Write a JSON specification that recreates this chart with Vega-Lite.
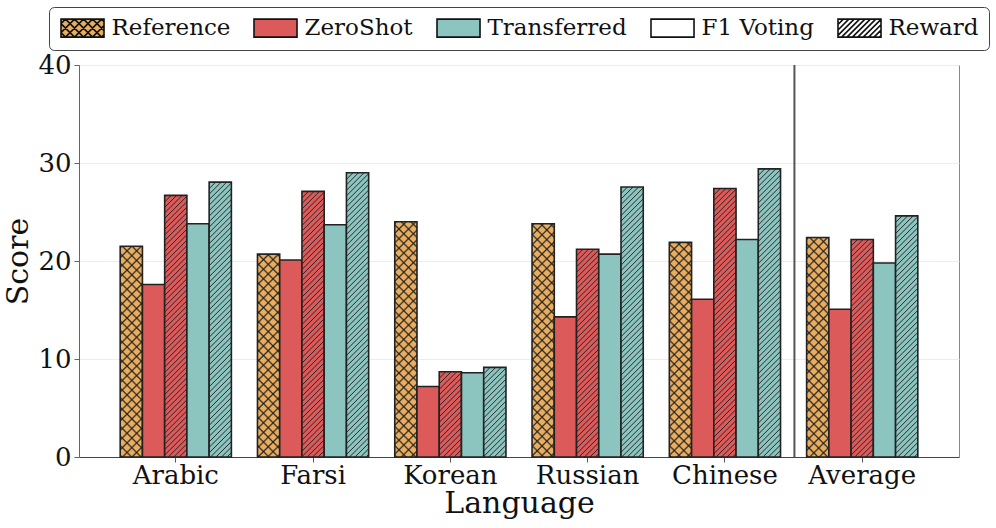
{
  "$schema": "https://vega.github.io/schema/vega-lite/v6.json",
  "width": 880,
  "height": 392,
  "autosize": "none",
  "padding": {"left": 79, "top": 65, "right": 37, "bottom": 71},
  "background": "white",
  "params": [
    {"name": "hatchStops", "value": [
      {"offset":0.000,"color":"rgba(30,30,30,0)"},{"offset":0.003,"color":"rgba(30,30,30,0.9)"},{"offset":0.006,"color":"rgba(30,30,30,0)"},
      {"offset":0.016,"color":"rgba(30,30,30,0)"},{"offset":0.019,"color":"rgba(30,30,30,0.9)"},{"offset":0.022,"color":"rgba(30,30,30,0)"},
      {"offset":0.032,"color":"rgba(30,30,30,0)"},{"offset":0.035,"color":"rgba(30,30,30,0.9)"},{"offset":0.038,"color":"rgba(30,30,30,0)"},
      {"offset":0.048,"color":"rgba(30,30,30,0)"},{"offset":0.051,"color":"rgba(30,30,30,0.9)"},{"offset":0.054,"color":"rgba(30,30,30,0)"},
      {"offset":0.064,"color":"rgba(30,30,30,0)"},{"offset":0.067,"color":"rgba(30,30,30,0.9)"},{"offset":0.070,"color":"rgba(30,30,30,0)"},
      {"offset":0.080,"color":"rgba(30,30,30,0)"},{"offset":0.083,"color":"rgba(30,30,30,0.9)"},{"offset":0.086,"color":"rgba(30,30,30,0)"},
      {"offset":0.096,"color":"rgba(30,30,30,0)"},{"offset":0.099,"color":"rgba(30,30,30,0.9)"},{"offset":0.102,"color":"rgba(30,30,30,0)"},
      {"offset":0.112,"color":"rgba(30,30,30,0)"},{"offset":0.115,"color":"rgba(30,30,30,0.9)"},{"offset":0.118,"color":"rgba(30,30,30,0)"},
      {"offset":0.128,"color":"rgba(30,30,30,0)"},{"offset":0.131,"color":"rgba(30,30,30,0.9)"},{"offset":0.134,"color":"rgba(30,30,30,0)"},
      {"offset":0.144,"color":"rgba(30,30,30,0)"},{"offset":0.147,"color":"rgba(30,30,30,0.9)"},{"offset":0.150,"color":"rgba(30,30,30,0)"},
      {"offset":0.160,"color":"rgba(30,30,30,0)"},{"offset":0.163,"color":"rgba(30,30,30,0.9)"},{"offset":0.166,"color":"rgba(30,30,30,0)"},
      {"offset":0.176,"color":"rgba(30,30,30,0)"},{"offset":0.179,"color":"rgba(30,30,30,0.9)"},{"offset":0.182,"color":"rgba(30,30,30,0)"},
      {"offset":0.192,"color":"rgba(30,30,30,0)"},{"offset":0.195,"color":"rgba(30,30,30,0.9)"},{"offset":0.198,"color":"rgba(30,30,30,0)"},
      {"offset":0.208,"color":"rgba(30,30,30,0)"},{"offset":0.211,"color":"rgba(30,30,30,0.9)"},{"offset":0.214,"color":"rgba(30,30,30,0)"},
      {"offset":0.224,"color":"rgba(30,30,30,0)"},{"offset":0.227,"color":"rgba(30,30,30,0.9)"},{"offset":0.230,"color":"rgba(30,30,30,0)"},
      {"offset":0.240,"color":"rgba(30,30,30,0)"},{"offset":0.243,"color":"rgba(30,30,30,0.9)"},{"offset":0.246,"color":"rgba(30,30,30,0)"},
      {"offset":0.256,"color":"rgba(30,30,30,0)"},{"offset":0.259,"color":"rgba(30,30,30,0.9)"},{"offset":0.262,"color":"rgba(30,30,30,0)"},
      {"offset":0.272,"color":"rgba(30,30,30,0)"},{"offset":0.275,"color":"rgba(30,30,30,0.9)"},{"offset":0.278,"color":"rgba(30,30,30,0)"},
      {"offset":0.288,"color":"rgba(30,30,30,0)"},{"offset":0.291,"color":"rgba(30,30,30,0.9)"},{"offset":0.294,"color":"rgba(30,30,30,0)"},
      {"offset":0.304,"color":"rgba(30,30,30,0)"},{"offset":0.307,"color":"rgba(30,30,30,0.9)"},{"offset":0.310,"color":"rgba(30,30,30,0)"},
      {"offset":0.320,"color":"rgba(30,30,30,0)"},{"offset":0.323,"color":"rgba(30,30,30,0.9)"},{"offset":0.326,"color":"rgba(30,30,30,0)"},
      {"offset":0.336,"color":"rgba(30,30,30,0)"},{"offset":0.339,"color":"rgba(30,30,30,0.9)"},{"offset":0.342,"color":"rgba(30,30,30,0)"},
      {"offset":0.352,"color":"rgba(30,30,30,0)"},{"offset":0.355,"color":"rgba(30,30,30,0.9)"},{"offset":0.358,"color":"rgba(30,30,30,0)"},
      {"offset":0.368,"color":"rgba(30,30,30,0)"},{"offset":0.371,"color":"rgba(30,30,30,0.9)"},{"offset":0.374,"color":"rgba(30,30,30,0)"},
      {"offset":0.384,"color":"rgba(30,30,30,0)"},{"offset":0.387,"color":"rgba(30,30,30,0.9)"},{"offset":0.390,"color":"rgba(30,30,30,0)"},
      {"offset":0.400,"color":"rgba(30,30,30,0)"},{"offset":0.403,"color":"rgba(30,30,30,0.9)"},{"offset":0.406,"color":"rgba(30,30,30,0)"},
      {"offset":0.416,"color":"rgba(30,30,30,0)"},{"offset":0.419,"color":"rgba(30,30,30,0.9)"},{"offset":0.422,"color":"rgba(30,30,30,0)"},
      {"offset":0.432,"color":"rgba(30,30,30,0)"},{"offset":0.435,"color":"rgba(30,30,30,0.9)"},{"offset":0.438,"color":"rgba(30,30,30,0)"},
      {"offset":0.448,"color":"rgba(30,30,30,0)"},{"offset":0.451,"color":"rgba(30,30,30,0.9)"},{"offset":0.454,"color":"rgba(30,30,30,0)"},
      {"offset":0.464,"color":"rgba(30,30,30,0)"},{"offset":0.467,"color":"rgba(30,30,30,0.9)"},{"offset":0.470,"color":"rgba(30,30,30,0)"},
      {"offset":0.480,"color":"rgba(30,30,30,0)"},{"offset":0.483,"color":"rgba(30,30,30,0.9)"},{"offset":0.486,"color":"rgba(30,30,30,0)"},
      {"offset":0.496,"color":"rgba(30,30,30,0)"},{"offset":0.499,"color":"rgba(30,30,30,0.9)"},{"offset":0.502,"color":"rgba(30,30,30,0)"},
      {"offset":0.512,"color":"rgba(30,30,30,0)"},{"offset":0.515,"color":"rgba(30,30,30,0.9)"},{"offset":0.518,"color":"rgba(30,30,30,0)"},
      {"offset":0.528,"color":"rgba(30,30,30,0)"},{"offset":0.531,"color":"rgba(30,30,30,0.9)"},{"offset":0.534,"color":"rgba(30,30,30,0)"},
      {"offset":0.544,"color":"rgba(30,30,30,0)"},{"offset":0.547,"color":"rgba(30,30,30,0.9)"},{"offset":0.550,"color":"rgba(30,30,30,0)"},
      {"offset":0.560,"color":"rgba(30,30,30,0)"},{"offset":0.563,"color":"rgba(30,30,30,0.9)"},{"offset":0.566,"color":"rgba(30,30,30,0)"},
      {"offset":0.576,"color":"rgba(30,30,30,0)"},{"offset":0.579,"color":"rgba(30,30,30,0.9)"},{"offset":0.582,"color":"rgba(30,30,30,0)"},
      {"offset":0.592,"color":"rgba(30,30,30,0)"},{"offset":0.595,"color":"rgba(30,30,30,0.9)"},{"offset":0.598,"color":"rgba(30,30,30,0)"},
      {"offset":0.608,"color":"rgba(30,30,30,0)"},{"offset":0.611,"color":"rgba(30,30,30,0.9)"},{"offset":0.614,"color":"rgba(30,30,30,0)"},
      {"offset":0.624,"color":"rgba(30,30,30,0)"},{"offset":0.627,"color":"rgba(30,30,30,0.9)"},{"offset":0.630,"color":"rgba(30,30,30,0)"},
      {"offset":0.640,"color":"rgba(30,30,30,0)"},{"offset":0.643,"color":"rgba(30,30,30,0.9)"},{"offset":0.646,"color":"rgba(30,30,30,0)"},
      {"offset":0.656,"color":"rgba(30,30,30,0)"},{"offset":0.659,"color":"rgba(30,30,30,0.9)"},{"offset":0.662,"color":"rgba(30,30,30,0)"},
      {"offset":0.672,"color":"rgba(30,30,30,0)"},{"offset":0.675,"color":"rgba(30,30,30,0.9)"},{"offset":0.678,"color":"rgba(30,30,30,0)"},
      {"offset":0.688,"color":"rgba(30,30,30,0)"},{"offset":0.691,"color":"rgba(30,30,30,0.9)"},{"offset":0.694,"color":"rgba(30,30,30,0)"},
      {"offset":0.704,"color":"rgba(30,30,30,0)"},{"offset":0.707,"color":"rgba(30,30,30,0.9)"},{"offset":0.710,"color":"rgba(30,30,30,0)"},
      {"offset":0.720,"color":"rgba(30,30,30,0)"},{"offset":0.723,"color":"rgba(30,30,30,0.9)"},{"offset":0.726,"color":"rgba(30,30,30,0)"},
      {"offset":0.736,"color":"rgba(30,30,30,0)"},{"offset":0.739,"color":"rgba(30,30,30,0.9)"},{"offset":0.742,"color":"rgba(30,30,30,0)"},
      {"offset":0.752,"color":"rgba(30,30,30,0)"},{"offset":0.755,"color":"rgba(30,30,30,0.9)"},{"offset":0.758,"color":"rgba(30,30,30,0)"},
      {"offset":0.768,"color":"rgba(30,30,30,0)"},{"offset":0.771,"color":"rgba(30,30,30,0.9)"},{"offset":0.774,"color":"rgba(30,30,30,0)"},
      {"offset":0.784,"color":"rgba(30,30,30,0)"},{"offset":0.787,"color":"rgba(30,30,30,0.9)"},{"offset":0.790,"color":"rgba(30,30,30,0)"},
      {"offset":0.800,"color":"rgba(30,30,30,0)"},{"offset":0.803,"color":"rgba(30,30,30,0.9)"},{"offset":0.806,"color":"rgba(30,30,30,0)"},
      {"offset":0.816,"color":"rgba(30,30,30,0)"},{"offset":0.819,"color":"rgba(30,30,30,0.9)"},{"offset":0.822,"color":"rgba(30,30,30,0)"},
      {"offset":0.832,"color":"rgba(30,30,30,0)"},{"offset":0.835,"color":"rgba(30,30,30,0.9)"},{"offset":0.838,"color":"rgba(30,30,30,0)"},
      {"offset":0.848,"color":"rgba(30,30,30,0)"},{"offset":0.851,"color":"rgba(30,30,30,0.9)"},{"offset":0.854,"color":"rgba(30,30,30,0)"},
      {"offset":0.864,"color":"rgba(30,30,30,0)"},{"offset":0.867,"color":"rgba(30,30,30,0.9)"},{"offset":0.870,"color":"rgba(30,30,30,0)"},
      {"offset":0.880,"color":"rgba(30,30,30,0)"},{"offset":0.883,"color":"rgba(30,30,30,0.9)"},{"offset":0.886,"color":"rgba(30,30,30,0)"},
      {"offset":0.896,"color":"rgba(30,30,30,0)"},{"offset":0.899,"color":"rgba(30,30,30,0.9)"},{"offset":0.902,"color":"rgba(30,30,30,0)"},
      {"offset":0.912,"color":"rgba(30,30,30,0)"},{"offset":0.915,"color":"rgba(30,30,30,0.9)"},{"offset":0.918,"color":"rgba(30,30,30,0)"},
      {"offset":0.928,"color":"rgba(30,30,30,0)"},{"offset":0.931,"color":"rgba(30,30,30,0.9)"},{"offset":0.934,"color":"rgba(30,30,30,0)"},
      {"offset":0.944,"color":"rgba(30,30,30,0)"},{"offset":0.947,"color":"rgba(30,30,30,0.9)"},{"offset":0.950,"color":"rgba(30,30,30,0)"},
      {"offset":0.960,"color":"rgba(30,30,30,0)"},{"offset":0.963,"color":"rgba(30,30,30,0.9)"},{"offset":0.966,"color":"rgba(30,30,30,0)"},
      {"offset":0.976,"color":"rgba(30,30,30,0)"},{"offset":0.979,"color":"rgba(30,30,30,0.9)"},{"offset":0.982,"color":"rgba(30,30,30,0)"}
    ]}
  ],
  "data": {"values": [
    {"language": "Arabic", "series": "Reference", "model": "Reference", "method": "Reference", "score": 21.5},
    {"language": "Arabic", "series": "ZeroShot F1 Voting", "model": "ZeroShot", "method": "F1 Voting", "score": 17.6},
    {"language": "Arabic", "series": "ZeroShot Reward", "model": "ZeroShot", "method": "Reward", "score": 26.7},
    {"language": "Arabic", "series": "Transferred F1 Voting", "model": "Transferred", "method": "F1 Voting", "score": 23.8},
    {"language": "Arabic", "series": "Transferred Reward", "model": "Transferred", "method": "Reward", "score": 28.05},
    {"language": "Farsi", "series": "Reference", "model": "Reference", "method": "Reference", "score": 20.7},
    {"language": "Farsi", "series": "ZeroShot F1 Voting", "model": "ZeroShot", "method": "F1 Voting", "score": 20.1},
    {"language": "Farsi", "series": "ZeroShot Reward", "model": "ZeroShot", "method": "Reward", "score": 27.1},
    {"language": "Farsi", "series": "Transferred F1 Voting", "model": "Transferred", "method": "F1 Voting", "score": 23.7},
    {"language": "Farsi", "series": "Transferred Reward", "model": "Transferred", "method": "Reward", "score": 29.0},
    {"language": "Korean", "series": "Reference", "model": "Reference", "method": "Reference", "score": 24.0},
    {"language": "Korean", "series": "ZeroShot F1 Voting", "model": "ZeroShot", "method": "F1 Voting", "score": 7.2},
    {"language": "Korean", "series": "ZeroShot Reward", "model": "ZeroShot", "method": "Reward", "score": 8.7},
    {"language": "Korean", "series": "Transferred F1 Voting", "model": "Transferred", "method": "F1 Voting", "score": 8.6},
    {"language": "Korean", "series": "Transferred Reward", "model": "Transferred", "method": "Reward", "score": 9.15},
    {"language": "Russian", "series": "Reference", "model": "Reference", "method": "Reference", "score": 23.8},
    {"language": "Russian", "series": "ZeroShot F1 Voting", "model": "ZeroShot", "method": "F1 Voting", "score": 14.3},
    {"language": "Russian", "series": "ZeroShot Reward", "model": "ZeroShot", "method": "Reward", "score": 21.2},
    {"language": "Russian", "series": "Transferred F1 Voting", "model": "Transferred", "method": "F1 Voting", "score": 20.7},
    {"language": "Russian", "series": "Transferred Reward", "model": "Transferred", "method": "Reward", "score": 27.55},
    {"language": "Chinese", "series": "Reference", "model": "Reference", "method": "Reference", "score": 21.9},
    {"language": "Chinese", "series": "ZeroShot F1 Voting", "model": "ZeroShot", "method": "F1 Voting", "score": 16.1},
    {"language": "Chinese", "series": "ZeroShot Reward", "model": "ZeroShot", "method": "Reward", "score": 27.4},
    {"language": "Chinese", "series": "Transferred F1 Voting", "model": "Transferred", "method": "F1 Voting", "score": 22.2},
    {"language": "Chinese", "series": "Transferred Reward", "model": "Transferred", "method": "Reward", "score": 29.4},
    {"language": "Average", "series": "Reference", "model": "Reference", "method": "Reference", "score": 22.4},
    {"language": "Average", "series": "ZeroShot F1 Voting", "model": "ZeroShot", "method": "F1 Voting", "score": 15.07},
    {"language": "Average", "series": "ZeroShot Reward", "model": "ZeroShot", "method": "Reward", "score": 22.2},
    {"language": "Average", "series": "Transferred F1 Voting", "model": "Transferred", "method": "F1 Voting", "score": 19.8},
    {"language": "Average", "series": "Transferred Reward", "model": "Transferred", "method": "Reward", "score": 24.6}
  ]},
  "layer": [
    {
      "mark": {"type": "bar", "stroke": "#222", "strokeWidth": 1.6},
      "encoding": {
        "x": {"field": "language", "type": "nominal",
              "scale": {"domain": ["Arabic", "Farsi", "Korean", "Russian", "Chinese", "Average"], "paddingInner": 0.19, "paddingOuter": 0.3},
              "axis": {"title": "Language", "labelAngle": 0, "labelFontSize": 26, "titleFontSize": 30, "titleFontWeight": "normal", "tickSize": 5, "labelPadding": 0, "titlePadding": 0, "domainColor": "#444", "tickColor": "#555", "labelColor": "#111", "titleColor": "#111"}},
        "xOffset": {"field": "series", "type": "nominal",
                    "scale": {"domain": ["Reference", "ZeroShot F1 Voting", "ZeroShot Reward", "Transferred F1 Voting", "Transferred Reward"], "paddingInner": 0, "paddingOuter": 0}},
        "y": {"field": "score", "type": "quantitative", "stack": null,
              "scale": {"domain": [0, 40], "nice": false},
              "axis": {"title": "Score", "values": [0, 10, 20, 30, 40], "labelFontSize": 26, "titleFontSize": 30, "titleFontWeight": "normal", "tickSize": 5, "labelPadding": 3, "titlePadding": 4, "grid": true, "gridColor": "#ececec", "domainColor": "#666", "tickColor": "#666", "labelColor": "#111", "titleColor": "#111"}},
        "fill": {"field": "model", "type": "nominal",
                 "scale": {"domain": ["Reference", "ZeroShot", "Transferred", "F1 Voting", "Reward"], "range": ["#E8AD5F", "#DC5A5A", "#8CC4BF", "#ffffff", "#ffffff"]},
                 "legend": {
                   "title": null, "orient": "none", "legendX": -30, "legendY": -58,
                   "direction": "horizontal", "columns": 5,
                   "labelFontSize": 23, "labelColor": "#111", "labelOffset": 30, "columnPadding": 20,
                   "symbolSize": 324, "symbolStrokeWidth": 1.6, "symbolStrokeColor": "#111", "symbolOpacity": 1,
                   "symbolType": "M-1,-1H3.78V1H-1Z",
                   "padding": 9.5, "strokeColor": "#444", "fillColor": "#ffffff", "cornerRadius": 5,
                   "encode": {"symbols": {"update": {"shape": [
                     {"test": "datum.value === 'Reference'", "value": "M-1,-1H3.78V1H-1Z M-1,-0.5L-0.5,-1 M-1,0.5L0.5,-1 M-0.5,1L1.5,-1 M0.5,1L2.5,-1 M1.5,1L3.5,-1 M2.5,1L3.78,-0.28 M3.5,1L3.78,0.72 M-1,0.5L-0.5,1 M-1,-0.5L0.5,1 M-0.5,-1L1.5,1 M0.5,-1L2.5,1 M1.5,-1L3.5,1 M2.5,-1L3.78,0.28 M3.5,-1L3.78,-0.72"},
                     {"test": "datum.value === 'Reward'", "value": "M-1,-1H3.78V1H-1Z M-1,-0.4L-0.4,-1 M-1,0.2L0.2,-1 M-1,0.8L0.8,-1 M-0.6,1L1.4,-1 M0,1L2,-1 M0.6,1L2.6,-1 M1.2,1L3.2,-1 M1.8,1L3.78,-0.98 M2.4,1L3.78,-0.38 M3,1L3.78,0.22 M3.6,1L3.78,0.82"},
                     {"value": "M-1,-1H3.78V1H-1Z"}
                   ]}}}
                 }}
      }
    },
    {
      "transform": [{"filter": "datum.method !== 'F1 Voting'"}],
      "mark": {"type": "bar", "strokeWidth": 0,
               "fill": {"expr": "{'gradient': 'linear', 'x1': 0, 'y1': 0, 'x2': (datum.method === 'Reference' ? 600 : 344) * bandwidth('xOffset') / (pow(bandwidth('xOffset'), 2) + pow(scale('y', 0) - scale('y', datum.score), 2)), 'y2': (datum.method === 'Reference' ? 600 : 344) * (scale('y', 0) - scale('y', datum.score)) / (pow(bandwidth('xOffset'), 2) + pow(scale('y', 0) - scale('y', datum.score), 2)), 'stops': hatchStops}"}},
      "encoding": {
        "x": {"field": "language", "type": "nominal"},
        "xOffset": {"field": "series", "type": "nominal"},
        "y": {"field": "score", "type": "quantitative", "stack": null}
      }
    },
    {
      "transform": [{"filter": "datum.method === 'Reference'"}],
      "mark": {"type": "bar", "strokeWidth": 0,
               "fill": {"expr": "{'gradient': 'linear', 'x1': 0, 'y1': 1, 'x2': 600 * bandwidth('xOffset') / (pow(bandwidth('xOffset'), 2) + pow(scale('y', 0) - scale('y', datum.score), 2)), 'y2': 1 - 600 * (scale('y', 0) - scale('y', datum.score)) / (pow(bandwidth('xOffset'), 2) + pow(scale('y', 0) - scale('y', datum.score), 2)), 'stops': hatchStops}"}},
      "encoding": {
        "x": {"field": "language", "type": "nominal"},
        "xOffset": {"field": "series", "type": "nominal"},
        "y": {"field": "score", "type": "quantitative", "stack": null}
      }
    },
    {
      "data": {"values": [{"language": "Chinese"}]},
      "mark": {"type": "rule", "color": "#555", "strokeWidth": 2},
      "encoding": {
        "x": {"field": "language", "type": "nominal", "bandPosition": 1.125}
      }
    }
  ],
  "config": {
    "font": "DejaVu Serif",
    "view": {"stroke": "#888", "strokeWidth": 1}
  }
}
